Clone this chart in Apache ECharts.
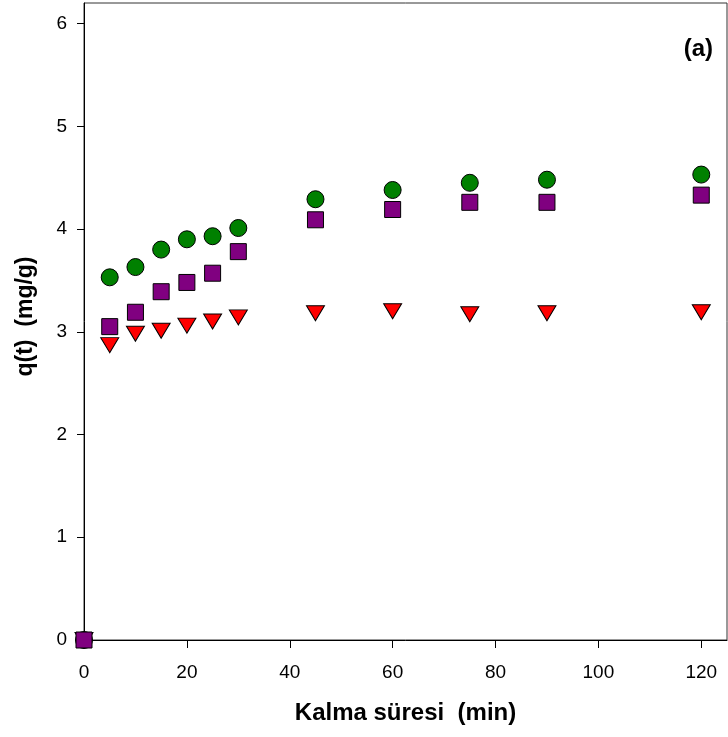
<!DOCTYPE html>
<html>
<head>
<meta charset="utf-8">
<script src="https://cdn.jsdelivr.net/npm/echarts@6/dist/echarts.min.js"></script>
<style>
html, body { margin: 0; padding: 0; background: #fff; }
#main { width: 728px; height: 737px; }
</style>
</head>
<body>
<div id="main"></div>
<script>
// zaman (dk)
var times = [0, 5, 10, 15, 20, 25, 30, 45, 60, 75, 90, 120];
// seriler
var circleVals = [0, 3.53, 3.63, 3.80, 3.90, 3.93, 4.01, 4.29, 4.38, 4.45, 4.48, 4.53];
var squareVals = [0, 3.05, 3.19, 3.39, 3.48, 3.57, 3.78, 4.09, 4.19, 4.26, 4.26, 4.33];
var triangleVals = [0, 2.87, 2.98, 3.01, 3.06, 3.10, 3.14, 3.18, 3.20, 3.17, 3.18, 3.19];
// eksen etiketleri
var xTicks = [0, 20, 40, 60, 80, 100, 120];
var yTicks = [0, 1, 2, 3, 4, 5, 6];

function pairs(xs, ys)
{
	var out = [];
	for (var i = 0; i < xs.length; i++) {
		out.push([xs[i], ys[i]]);
	}
	return out;
}

var myChart = echarts.init(document.getElementById('main'));

var labelFont = 'Liberation Sans, Arial, sans-serif';

var option = {
	backgroundColor: '#fff',
	animation: false,
	grid: {
		left: 84,
		right: 1,
		top: 3,
		bottom: 97,
		show: true,
		borderColor: '#333',
		borderWidth: 1
	},
	graphic: [
		{
			type: 'text',
			right: 15,
			top: 37,
			style: {
				text: '(a)',
				font: 'bold 24px ' + labelFont,
				fill: '#000'
			}
		}
	],
	xAxis: {
		type: 'value',
		min: 0,
		max: 125,
		name: 'Kalma süresi  (min)',
		nameLocation: 'middle',
		nameGap: 61,
		nameTextStyle: {
			fontFamily: labelFont,
			fontWeight: 'bold',
			fontSize: 24,
			color: '#000'
		},
		splitLine: { show: false },
		axisLine: { onZero: false, lineStyle: { color: '#000', width: 1 } },
		axisTick: {
			show: true,
			length: 8,
			customValues: xTicks,
			lineStyle: { color: '#000' }
		},
		axisLabel: {
			customValues: xTicks,
			margin: 23,
			fontFamily: labelFont,
			fontSize: 19,
			color: '#000'
		}
	},
	yAxis: {
		type: 'value',
		min: 0,
		max: 6.2,
		name: 'q(t)  (mg/g)',
		nameLocation: 'middle',
		nameGap: 47,
		nameTextStyle: {
			fontFamily: labelFont,
			fontWeight: 'bold',
			fontSize: 23,
			color: '#000',
			padding: [0, 0, 0, 10]
		},
		splitLine: { show: false },
		axisLine: { onZero: false, lineStyle: { color: '#000', width: 1 } },
		axisTick: {
			show: true,
			length: 7,
			customValues: yTicks,
			lineStyle: { color: '#000' }
		},
		axisLabel: {
			customValues: yTicks,
			margin: 17,
			fontFamily: labelFont,
			fontSize: 19,
			color: '#000'
		}
	},
	series: [
		{
			name: 'circle',
			type: 'scatter',
			symbol: 'circle',
			symbolSize: 17,
			data: pairs(times, circleVals),
			itemStyle: { color: '#008000', borderColor: '#000', borderWidth: 1, opacity: 1 }
		},
		{
			name: 'triangle',
			type: 'scatter',
			symbol: 'triangle',
			symbolRotate: 180,
			symbolSize: [18, 15],
			data: pairs(times, triangleVals),
			itemStyle: { color: '#ff0000', borderColor: '#000', borderWidth: 1, opacity: 1 }
		},
		{
			name: 'square',
			type: 'scatter',
			symbol: 'rect',
			symbolSize: 16,
			data: pairs(times, squareVals),
			itemStyle: { color: '#800080', borderColor: '#000', borderWidth: 1, opacity: 1 }
		}
	]
};

myChart.setOption(option);
</script>
</body>
</html>
